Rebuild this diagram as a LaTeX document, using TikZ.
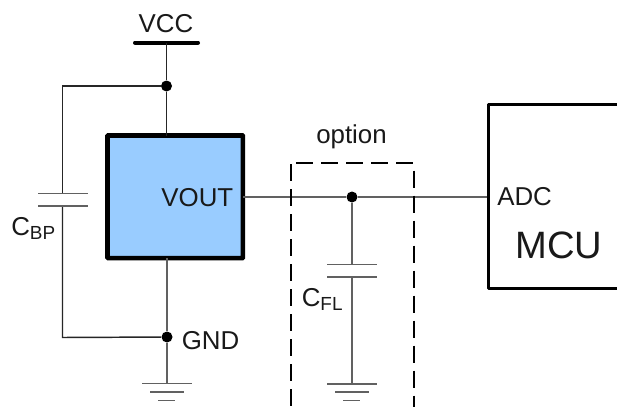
\documentclass[tikz,border=0pt]{standalone}
\usepackage{fontspec}
\setmainfont{Liberation Sans}
\newcommand{\subtxt}[1]{\raisebox{-0.16em}{\fontsize{14.2}{16}\selectfont #1}}
\tikzset{
  x=0.75pt,y=-0.75pt,
  wire/.style={line width=1.1pt,draw=black!85},
  softwire/.style={line width=1.4pt,draw=black!62},
  plate/.style={line width=1.1pt,draw=black!62},
  dotnode/.style={circle,fill=black,inner sep=0pt,minimum size=8.25pt},
  lbl/.style={inner sep=0pt,font=\fontsize{19.4}{22}\selectfont,text=black!90},
  dashbox/.style={line width=1.5pt,draw=black,dash pattern=on 13.1pt off 5.65pt},
}
\begin{document}
\begin{tikzpicture}
\useasboundingbox (0,0) rectangle (617,407);
\fill[white] (0,0) rectangle (617,407);
% coordinates
\coordinate (vccbar) at (166.5,42.5);
\node[dotnode] (top) at (166.5,86) {};
\node[dotnode] (bot) at (167,337) {};
\node[dotnode] (mid) at (352,197) {};
\coordinate (cornerT) at (62.5,86);
\coordinate (capA) at (62.5,193.5);
\coordinate (capB) at (62.5,206);
\coordinate (cornerB) at (62.5,337.5);
\coordinate (gnd1) at (167,383.5);
\coordinate (capC) at (352,264.5);
\coordinate (capD) at (352,277);
\coordinate (gnd2) at (352,384);
% chip
\node[draw=black,line width=3.4pt,rounded corners=0.5pt,fill={rgb,255:red,153;green,204;blue,255},minimum width=101.6pt,minimum height=92pt,inner sep=0pt,outer sep=0pt,anchor=north west] (chip) at (107.5,135.5) {};
% MCU
\coordinate (mcuTR) at (617,104.7);
\coordinate (mcuBR) at (617,288.7);
\coordinate (mcuTL) at (488.2,104.7);
\coordinate (mcuBL) at (488.2,288.7);
\draw[line width=2.2pt,line join=round] (mcuTR) -- (mcuTL) -- (mcuBL) -- (mcuBR);
\coordinate (adc) at (487,197);
% wires
\draw[line width=3pt,line cap=round] (135,42.5) -- (198,42.5);
\draw[wire] (vccbar) -- (top);
\draw[wire] (top) -- (chip.north -| top);
\draw[wire] (top) -- (cornerT) -- (capA);
\draw[wire] (capB) -- (cornerB) -- (bot);
\draw[softwire] (chip.south -| bot) -- (bot);
\draw[softwire] (bot) -- (gnd1);
\draw[softwire] (chip.east |- mid) -- (mid);
\draw[softwire] (mid) -- (adc);
\draw[softwire] (mid) -- (capC);
\draw[softwire] (capD) -- (gnd2);
% plates
\draw[plate] (38,193.5) -- (87.5,193.5);
\draw[plate] (38,206) -- (87.5,206);
\draw[plate] (327,264.5) -- (377,264.5);
\draw[plate] (327,277) -- (377,277);
\draw[plate] (142,383.5) -- (192,383.5);
\draw[plate] (150,392) -- (184,392);
\draw[plate] (158,400.5) -- (175,400.5);
\draw[plate] (327,384) -- (377,384);
\draw[plate] (335,392) -- (369,392);
\draw[plate] (343,400.5) -- (360,400.5);
% dashed box
\draw[dashbox] (290.5,164) -- (290.5,407);
\draw[dashbox] (296,162.5) -- (413.5,162.5);
\draw[dashbox] (413.5,170.7) -- (413.5,407);
% labels
\node[lbl,anchor=base] (vcc) at (166,32) {VCC};
\node[lbl,anchor=base east] (vout) at (233.5,206) {VOUT};
\node[lbl,anchor=base west] (gnd) at (181.5,349) {GND};
\node[lbl,anchor=base west] (cbp) at (11,235) {C\subtxt{BP}};
\node[lbl,anchor=base west] (cfl) at (301.5,306) {C\subtxt{FL}};
\node[lbl,anchor=base] (option) at (351.5,143) {option};
\node[lbl,anchor=base west] (adct) at (497,205.5) {ADC};
\node[lbl,anchor=base west,font=\fontsize{28.6}{32}\selectfont] (mcu) at (515,258) {MCU};
\end{tikzpicture}
\end{document}
